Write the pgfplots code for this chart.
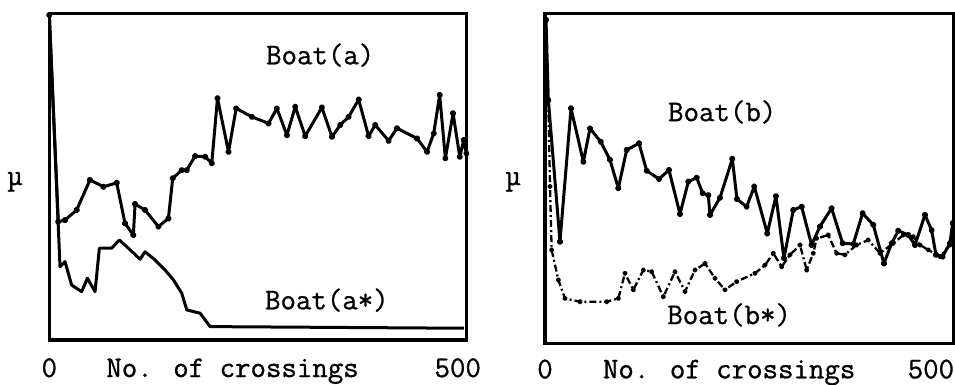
\documentclass[border=0pt]{standalone}
\usepackage{fontspec}
\usepackage{pgfplots}
\pgfplotsset{compat=1.18}
\newfontfamily\typew{Latin Modern Mono}[FakeBold=0.9]
\newcommand{\tf}{\fontsize{30}{36}\selectfont\typew}
\begin{document}
\begin{tikzpicture}
\useasboundingbox (0pt,0pt) rectangle (955pt,-385pt);
\pgfplotsset{
  boatax/.style={
    scale only axis,
    axis line style={line width=3.2pt, line cap=rect},
    xtick={0,500}, xticklabels={0,500}, ytick=\empty, major tick length=0pt,
    ymin=0, ymax=100, xmin=0,
    /pgf/number format/assume math mode=true,
    xticklabel style={font=\tf, anchor=base},
    xlabel={No. of crossings},
    ylabel={µ},
    ylabel style={font=\tf, rotate=-90, anchor=center},
  },
  solidline/.style={line width=3pt, line join=round, mark=*, mark size=1.8pt, black},
  dashline/.style={line width=2.3pt, line join=round, dash pattern=on 7pt off 3pt on 2pt off 3pt, mark=*, mark size=1.5pt, mark options={solid}, black},
}
% ---------- left ----------
\begin{axis}[boatax, at={(49.3pt,-340pt)}, anchor=south west,
  width=417.4pt, height=326.7pt, xmax=511,
  xticklabel style={yshift=-37pt},
  xlabel style={font=\tf, at={(axis description cs:0.439,0)}, anchor=base, yshift=-37pt},
  ylabel style={at={(axis description cs:-0.082,0.484)}}]
\addplot[solidline] coordinates {
(0,99.5) (11.0,36.2) (19.2,36.7) (33.5,39.8) (49.8,49.0) (66.2,46.9) (82.5,48.1)
(92.7,35.7) (102.9,32.1) (105.0,41.6) (117.2,39.8) (133.6,34.7) (145.8,37.2)
(151.1,49.5) (162.2,52.0) (168.3,52.0) (178.5,56.3) (190.8,56.1) (198.9,54.1)
(205.9,74.0) (219.4,57.6) (228.8,70.9) (248.0,68.3) (268.4,66.3) (278.6,70.9)
(290.9,62.7) (301.1,71.4) (313.3,62.4) (333.7,71.2) (346.0,62.2) (356.2,65.8)
(366.4,68.3) (378.7,73.6) (390.9,62.4) (399.1,65.8) (415.4,61.0) (425.7,64.8)
(450.2,61.7) (462.4,57.6) (470.6,63.2) (477.9,75.0) (484.9,55.6) (494.3,69.4)
(502.5,56.1) (507.4,61.2) (510.6,57.1)};
\addplot[solidline, mark=none] coordinates {
(0,99.5) (13.1,22.4) (19.2,24.0) (27.4,16.8) (39.6,14.8) (46.6,18.9) (56.0,14.8)
(61.3,28.1) (76.4,28.1) (85.8,30.6) (96.8,28.1) (111.1,24.7) (117.2,27.0)
(129.5,24.5) (141.7,21.4) (152.0,18.4) (162.2,14.3) (168.3,9.2) (184.6,8.2)
(196.9,4.1) (507.4,3.6)};
\node[font=\tf] at (axis description cs:0.649,0.872) {Boat(a)};
\node[font=\tf] at (axis description cs:0.665,0.122) {Boat(a*)};
\end{axis}
% ---------- right ----------
\begin{axis}[boatax, at={(545pt,-343.3pt)}, anchor=south west,
  width=408.3pt, height=330pt, xmax=529,
  xticklabel style={yshift=-35pt},
  xlabel style={font=\tf, at={(axis description cs:0.451,0)}, anchor=base, yshift=-35pt},
  ylabel style={at={(axis description cs:-0.078,0.489)}}]
\addplot[solidline] coordinates {
(1.3,98.0) (4.3,73.7) (19.4,30.8) (33.7,71.2) (49.7,55.0) (58.3,65.1) (72.1,61.1)
(84.2,55.6) (95.0,47.0) (105.8,58.6) (121.8,60.6) (131.7,52.3) (147.7,49.8)
(160.6,52.5) (174.9,39.2) (185.7,49.0) (196.5,50.2) (204.2,45.5) (211.6,44.9)
(213.7,38.9) (226.7,44.1) (242.7,55.9) (248.7,43.7) (261.2,41.4) (271.2,47.5)
(288.0,33.3) (299.2,44.6) (309.6,25.8) (321.7,40.4) (332.5,41.4) (345.4,29.8)
(356.2,35.4) (371.3,40.9) (385.6,30.3) (399.4,30.1) (411.5,39.4) (425.3,35.9)
(439.1,24.2) (449.1,30.3) (457.7,34.1) (470.7,32.8) (479.3,29.8) (492.3,38.9)
(500.9,34.3) (506.5,26.8) (515.1,26.3) (524.6,30.3) (528.1,36.4)};
\addplot[dashline] coordinates {
(4.3,73.7) (6.5,47.5) (8.6,28.3) (17.3,19.2) (25.9,13.6) (45.3,12.6) (79.9,12.6)
(95.0,13.6) (103.6,21.2) (114.4,16.2) (127.4,22.2) (138.2,21.7) (153.3,14.1)
(168.4,21.7) (181.4,15.7) (194.3,22.2) (207.3,24.2) (220.2,19.7) (233.2,16.2)
(248.3,18.7) (272.0,21.2) (285.0,23.7) (295.8,27.3) (306.6,23.2) (317.4,26.8)
(330.3,29.8) (339.0,22.2) (347.6,27.3) (351.9,31.8) (367.0,32.8) (377.8,27.3)
(388.6,26.8) (403.7,29.8) (418.8,31.3) (434.0,27.3) (451.2,30.3) (464.2,32.8)
(477.2,32.3) (485.8,29.8) (496.6,28.3) (511.7,26.3) (524.6,29.8)};
\node[font=\tf] at (axis description cs:0.434,0.701) {Boat(b)};
\node[font=\tf] at (axis description cs:0.451,0.086) {Boat(b*)};
\end{axis}
\end{tikzpicture}
\end{document}
